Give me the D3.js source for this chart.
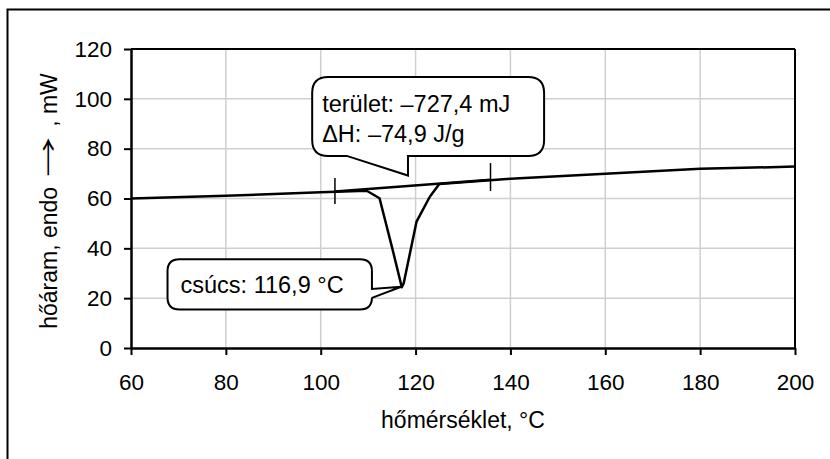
<!DOCTYPE html>
<html><head><meta charset="utf-8">
<script src="https://cdn.jsdelivr.net/npm/d3@7"></script>
<style>
html,body{margin:0;padding:0;background:#fff;}
svg{display:block;font-family:"Liberation Sans",Arial,sans-serif;}
</style></head>
<body>
<svg id="chart" width="830" height="459"></svg>
<script>
// ---- data ----
const temperature = [60, 80, 100, 109.7, 112.4, 115.0, 117.1, 117.5, 120.2, 123.0, 125.0, 140, 160, 180, 200];
const heatFlow    = [60, 61.1, 62.5, 63.1, 60.1, 40.7, 24.4, 26.0, 50.7, 60.7, 65.8, 67.9, 69.9, 71.9, 72.8];
const baselineTemp = [103, 135.8];
const baselineFlow = [62.8, 67.5];
const limitLow  = [57.8, 63.0];
const limitHigh = [68.2, 74.2];
const xTicks = [60, 80, 100, 120, 140, 160, 180, 200];
const yTicks = [0, 20, 40, 60, 80, 100, 120];
const xTitle = "hőmérséklet, °C";
const yTitleParts = ["hőáram, endo", "→", ", mW"];
const areaLines = ["terület: –727,4 mJ", "ΔH: –74,9 J/g"];
const peakLine = "csúcs: 116,9 °C";
// callout geometry in data units
const areaBox = {x0: 98.2, x1: 147.1, y0: 77.1, y1: 108.8, pA: 105.5, pB: 118.4, tipX: 118.4, tipY: 69.2};
const peakBox = {x0: 67.7, x1: 110.8, y0: 15.5, y1: 35.6, pA: 23.7, pB: 20.1, tipX: 117.0, tipY: 24.6};

// ---- layout ----
const svg = d3.select("#chart");
const L = 131, R = 795, T = 49, B = 348;
const x = d3.scaleLinear().domain([60, 200]).range([L, R]);
const y = d3.scaleLinear().domain([0, 120]).range([B, T]);
const FS_TICK = 22.5, FS_TITLE = 23, FS_NOTE = 23.5;

// outer frame
svg.append("rect").attr("x", 7.5).attr("y", 9.5).attr("width", 900).attr("height", 900)
  .attr("fill", "none").attr("stroke", "#000").attr("stroke-width", 2);

// gridlines
const g = svg.append("g");
g.selectAll("line.vg").data(xTicks.slice(1, -1)).enter().append("line")
  .attr("x1", d => x(d)).attr("x2", d => x(d)).attr("y1", T).attr("y2", B)
  .attr("stroke", "#cfcfcf").attr("stroke-width", 1.5);
g.selectAll("line.hg").data(yTicks.slice(1, -1)).enter().append("line")
  .attr("x1", L).attr("x2", R).attr("y1", d => y(d)).attr("y2", d => y(d))
  .attr("stroke", "#cfcfcf").attr("stroke-width", 1.5);

// plot frame top/right
svg.append("line").attr("x1", L).attr("x2", R).attr("y1", T).attr("y2", T).attr("stroke", "#000").attr("stroke-width", 2);
svg.append("line").attr("x1", R).attr("x2", R).attr("y1", T).attr("y2", B).attr("stroke", "#000").attr("stroke-width", 2);

// axes
const xAxis = svg.append("g").attr("transform", `translate(0,${B})`)
  .call(d3.axisBottom(x).tickValues(xTicks).tickSize(7).tickSizeOuter(0).tickPadding(19));
const yAxis = svg.append("g").attr("transform", `translate(${L},0)`)
  .call(d3.axisLeft(y).tickValues(yTicks).tickSize(7).tickSizeOuter(0).tickPadding(12));
[xAxis, yAxis].forEach(a => {
  a.select(".domain").attr("stroke", "#000").attr("stroke-width", 2.5);
  a.selectAll(".tick line").attr("stroke", "#000").attr("stroke-width", 2);
  a.selectAll(".tick text").attr("fill", "#000").style("font-size", FS_TICK + "px").style("font-family", '"Liberation Sans",Arial,sans-serif');
});

// x title
svg.append("text").attr("x", (L + R) / 2).attr("y", 428).attr("text-anchor", "middle")
  .style("font-size", FS_TITLE + "px").text(xTitle);

// y title: three pieces laid along a rotated baseline, arrow stretched
const yg = svg.append("g");
const p1 = yg.append("text").style("font-size", FS_TITLE + "px").text(yTitleParts[0]);
const ar = yg.append("text").style("font-size", FS_TITLE + "px")
  .style("font-family", '"Noto Sans CJK JP","DejaVu Sans",sans-serif').text(yTitleParts[1]);
const p3 = yg.append("text").style("font-size", FS_TITLE + "px").text(yTitleParts[2]);
const w1 = p1.node().getComputedTextLength();
const wa = ar.node().getComputedTextLength();
const w3 = p3.node().getComputedTextLength();
const arrowLen = 40, gapA = 10, gapB = 10;
const total = w1 + gapA + arrowLen + gapB + w3;
const ax0 = w1 + gapA;
ar.attr("transform", `translate(${ax0},0) scale(${arrowLen / wa},1)`);
p3.attr("x", ax0 + arrowLen + gapB);
yg.attr("transform", `translate(57,${201 + total / 2}) rotate(-90)`);

// curve
const pts = temperature.map((t, i) => [t, heatFlow[i]]);
const line = d3.line().x(d => x(d[0])).y(d => y(d[1]));
svg.append("path").attr("d", line(pts)).attr("fill", "none").attr("stroke", "#000")
  .attr("stroke-width", 2.5).attr("stroke-linejoin", "round");
// integration baseline
svg.append("path").attr("d", line(baselineTemp.map((t, i) => [t, baselineFlow[i]])))
  .attr("fill", "none").attr("stroke", "#000").attr("stroke-width", 2.5);
// limit markers
svg.selectAll("line.lim").data(baselineTemp).enter().append("line")
  .attr("x1", d => x(d)).attr("x2", d => x(d))
  .attr("y1", (d, i) => y(limitLow[i])).attr("y2", (d, i) => y(limitHigh[i]))
  .attr("stroke", "#000").attr("stroke-width", 1.5);

// callouts
function roundedCalloutBottom(b, r) {
  const X0 = x(b.x0), X1 = x(b.x1), Y0 = y(b.y1), Y1 = y(b.y0);
  const pa = x(b.pA), pb = x(b.pB), tx = x(b.tipX), ty = y(b.tipY);
  return `M${X0 + r},${Y0} L${X1 - r},${Y0} Q${X1},${Y0} ${X1},${Y0 + r} L${X1},${Y1 - r} Q${X1},${Y1} ${X1 - r},${Y1}
    L${pb},${Y1} L${tx},${ty} L${pa},${Y1} L${X0 + r},${Y1} Q${X0},${Y1} ${X0},${Y1 - r} L${X0},${Y0 + r} Q${X0},${Y0} ${X0 + r},${Y0} Z`;
}
function roundedCalloutRight(b, r) {
  const X0 = x(b.x0), X1 = x(b.x1), Y0 = y(b.y1), Y1 = y(b.y0);
  const pa = y(b.pA), pb = y(b.pB), tx = x(b.tipX), ty = y(b.tipY);
  return `M${X0 + r},${Y0} L${X1 - r},${Y0} Q${X1},${Y0} ${X1},${Y0 + r} L${X1},${pa} L${tx},${ty} L${X1},${pb}
    L${X1},${Y1 - r} Q${X1},${Y1} ${X1 - r},${Y1} L${X0 + r},${Y1} Q${X0},${Y1} ${X0},${Y1 - r} L${X0},${Y0 + r} Q${X0},${Y0} ${X0 + r},${Y0} Z`;
}
svg.append("path").attr("d", roundedCalloutBottom(areaBox, 16)).attr("fill", "#fff").attr("stroke", "#000").attr("stroke-width", 2);
svg.append("path").attr("d", roundedCalloutRight(peakBox, 12)).attr("fill", "#fff").attr("stroke", "#000").attr("stroke-width", 2);

const t1 = svg.append("text").style("font-size", FS_NOTE + "px");
areaLines.forEach((s, i) => t1.append("tspan").attr("x", x(areaBox.x0) + 10).attr("y", 112 + i * 30).text(s));
svg.append("text").attr("x", x(peakBox.x0) + 13).attr("y", 293).style("font-size", FS_NOTE + "px").text(peakLine);
</script>
</body></html>
